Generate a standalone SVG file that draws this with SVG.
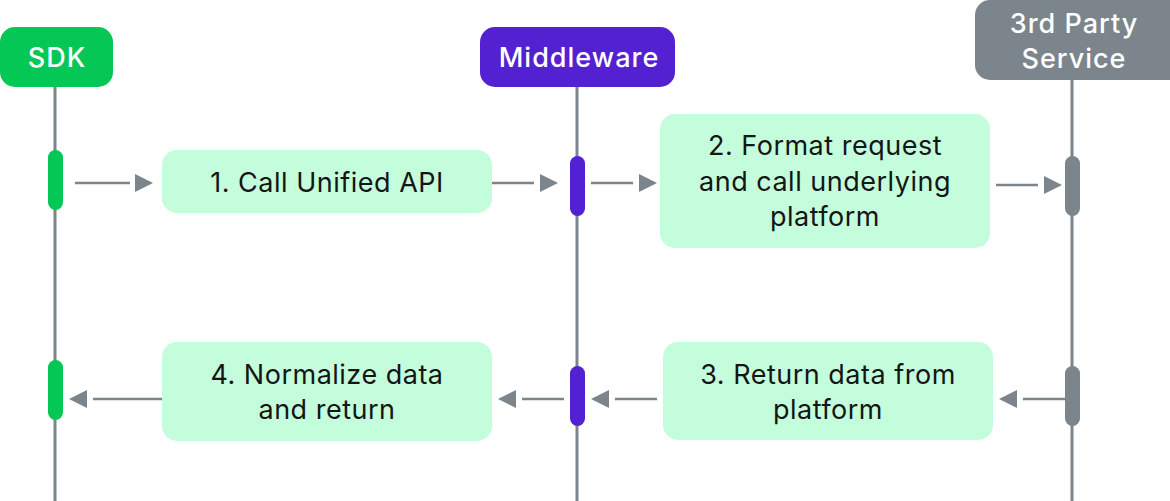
<svg xmlns="http://www.w3.org/2000/svg" width="1170" height="501" viewBox="0 0 1170 501">
<defs>
<style>
.life{stroke:#7c858c;stroke-width:3;fill:none}
.conn{stroke:#7c858c;stroke-width:2.5;fill:none}
.tri{fill:#7c858c}
.hdr{font-family:Inter,"Noto Sans",sans-serif;font-size:27px;font-weight:500;letter-spacing:1px;fill:#ffffff;text-anchor:middle}
.box{fill:#c4fddb}
.lbl{font-family:Inter,"Noto Sans",sans-serif;font-size:27px;font-weight:400;letter-spacing:0.5px;fill:#151515;text-anchor:middle}
</style>
</defs>
<rect width="1170" height="501" fill="#ffffff"/>
<g id="lifelines">
<line class="life" x1="55" y1="80" x2="55" y2="501"/>
<line class="life" x1="577" y1="80" x2="577" y2="501"/>
<line class="life" x1="1072" y1="70" x2="1072" y2="501"/>
</g>
<g id="sdk">
<rect x="0" y="27" width="113" height="60" rx="15" fill="#04c755"/>
<text class="hdr" x="57" y="67">SDK</text>
<rect x="48" y="150" width="15" height="60" rx="7.5" fill="#04c755"/>
<rect x="48" y="360" width="15" height="60" rx="7.5" fill="#04c755"/>
</g>
<g id="middleware">
<rect x="480" y="27" width="195" height="60" rx="15" fill="#5321d1"/>
<text class="hdr" x="579" y="67">Middleware</text>
<rect x="570" y="156" width="15" height="60" rx="7.5" fill="#5321d1"/>
<rect x="570" y="366" width="15" height="60" rx="7.5" fill="#5321d1"/>
</g>
<g id="service">
<rect x="975" y="0" width="210" height="80" rx="15" fill="#7c858c"/>
<text class="hdr" x="1074" y="33">3rd Party</text>
<text class="hdr" x="1074" y="68">Service</text>
<rect x="1065" y="156" width="15" height="60" rx="7.5" fill="#7c858c"/>
<rect x="1065" y="366" width="15" height="60" rx="7.5" fill="#7c858c"/>
</g>
<g id="step1">
<rect class="box" x="162" y="150" width="330" height="63" rx="15"/>
<text class="lbl" x="327" y="192">1. Call Unified API</text>
</g>
<g id="step2">
<rect class="box" x="660" y="114" width="330" height="134" rx="15"/>
<text class="lbl" x="825" y="155">2. Format request</text>
<text class="lbl" x="825" y="191">and call underlying</text>
<text class="lbl" x="825" y="226">platform</text>
</g>
<g id="step3">
<rect class="box" x="663" y="342" width="330" height="98" rx="15"/>
<text class="lbl" x="828" y="384">3. Return data from</text>
<text class="lbl" x="828" y="419">platform</text>
</g>
<g id="step4">
<rect class="box" x="162" y="342" width="330" height="99" rx="15"/>
<text class="lbl" x="327" y="384">4. Normalize data</text>
<text class="lbl" x="327" y="419">and return</text>
</g>
<g id="connectors">
<line class="conn" x1="75" y1="183" x2="130" y2="183"/>
<polygon class="tri" points="135,174 153,183 135,192"/>
<line class="conn" x1="492" y1="183" x2="534" y2="183"/>
<polygon class="tri" points="540,174 558,183 540,192"/>
<line class="conn" x1="591" y1="183" x2="633" y2="183"/>
<polygon class="tri" points="639,174 657,183 639,192"/>
<line class="conn" x1="996" y1="185" x2="1038" y2="185"/>
<polygon class="tri" points="1044,176 1062,185 1044,194"/>
<line class="conn" x1="1023" y1="399" x2="1065" y2="399"/>
<polygon class="tri" points="1017,390 999,399 1017,408"/>
<line class="conn" x1="615" y1="399" x2="657" y2="399"/>
<polygon class="tri" points="609,390 591,399 609,408"/>
<line class="conn" x1="522" y1="399" x2="564" y2="399"/>
<polygon class="tri" points="516,390 498,399 516,408"/>
<line class="conn" x1="93" y1="399" x2="162" y2="399"/>
<polygon class="tri" points="87,390 69,399 87,408"/>
</g>
</svg>
